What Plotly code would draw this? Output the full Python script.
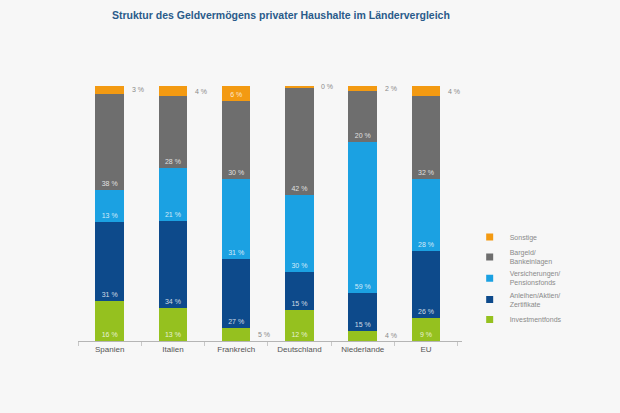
import plotly.graph_objects as go

laender = ["Spanien", "Italien", "Frankreich", "Deutschland", "Niederlande", "EU"]
investmentfonds = [16, 13, 5, 12, 4, 9]
anleihen = [31, 34, 27, 15, 15, 26]
versicherungen = [13, 21, 31, 30, 59, 28]
bargeld = [38, 28, 30, 42, 20, 32]
sonstige = [3, 4, 6, 0.4, 2, 4]

series = [
    ("Investmentfonds", investmentfonds, "#95c11f"),
    ("Anleihen/Aktien/<br>Zertifikate", anleihen, "#0d4a8b"),
    ("Versicherungen/<br>Pensionsfonds", versicherungen, "#1ba1e2"),
    ("Bargeld/<br>Bankeinlagen", bargeld, "#6e6e6e"),
    ("Sonstige", sonstige, "#f39a12"),
]

FONT = "Arial, Liberation Sans, sans-serif"
totals = [sum(s[1][i] for s in series) for i in range(len(laender))]
fig = go.Figure()
annotations = []
cum = [0.0] * len(laender)
for name, vals, color in series:
    texts = []
    for i, v in enumerate(vals):
        lab = f"{round(v)} %"
        if v >= 5.5:
            texts.append(lab)
        else:
            texts.append("")
            mid = (cum[i] + v / 2) / totals[i] * 100
            annotations.append(dict(x=laender[i], y=mid, xref="x", yref="y", text=lab,
                                    showarrow=False, xanchor="left", xshift=20,
                                    font=dict(size=7, color="#8a8a8a", family=FONT)))
        cum[i] += v
    fig.add_trace(go.Bar(
        x=laender, y=vals, name=name, marker=dict(color=color, line=dict(width=0)),
        text=texts, textposition="inside", insidetextanchor="start", textangle=0,
        textfont=dict(size=7, color="rgba(255,255,255,0.8)", family=FONT),
        hoverinfo="skip", showlegend=False,
    ))

for name, vals, color in series:
    fig.add_trace(go.Scatter(x=[None], y=[None], mode="markers", name=name,
                             marker=dict(symbol="square", size=7, color=color),
                             hoverinfo="skip", showlegend=True))

fig.update_layout(
    barmode="stack", barnorm="percent", bargap=0.55,
    width=620, height=413,
    margin=dict(l=78, r=158, t=86, b=72),
    paper_bgcolor="#f7f7f7", plot_bgcolor="#f7f7f7",
    title=dict(text="<b>Struktur des Geldvermögens privater Haushalte im Ländervergleich</b>",
               x=112 / 620, xref="container", xanchor="left", y=1 - 15 / 413, yanchor="middle",
               font=dict(size=10.5, color="#2a5b8a", family=FONT)),
    xaxis=dict(showline=True, linecolor="#b5b5b5", linewidth=1, ticks="outside", tickson="boundaries",
               ticklen=4, tickcolor="#c8c8c8", tickfont=dict(size=8, color="#555555", family=FONT),
               showgrid=False),
    yaxis=dict(range=[0, 100], visible=False, showgrid=False),
    legend=dict(x=1.02, xanchor="left", y=0.465, yanchor="top", traceorder="reversed",
                font=dict(size=7, color="#8a8a8a", family=FONT),
                itemwidth=30, bgcolor="rgba(0,0,0,0)", tracegroupgap=0),
    uniformtext=dict(minsize=7, mode="show"),
    annotations=annotations,
    showlegend=True,
)

fig.write_html("out.html", config={"displayModeBar": False},
               post_script="document.body.style.margin='0';document.body.style.overflow='hidden';")
